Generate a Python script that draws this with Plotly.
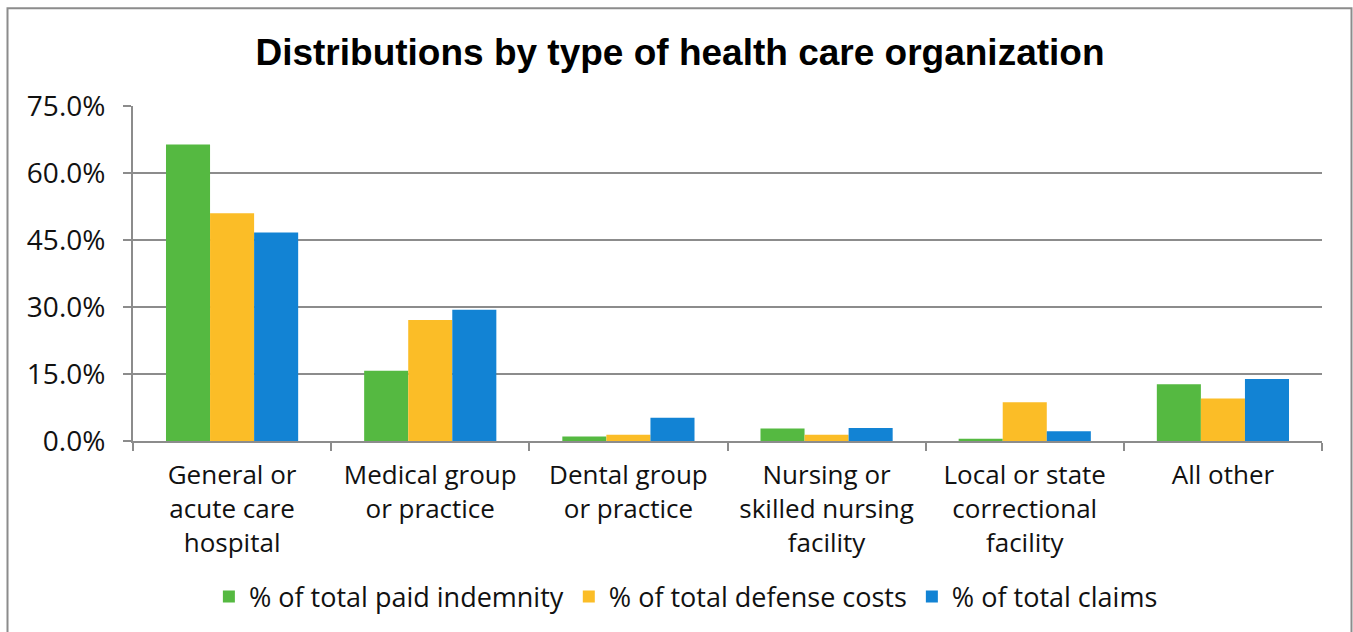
import plotly.graph_objects as go

# Claim distributions by organization type (percent of totals)
categories = [
    "General or<br>acute care<br>hospital",
    "Medical group<br>or practice",
    "Dental group<br>or practice",
    "Nursing or<br>skilled nursing<br>facility",
    "Local or state<br>correctional<br>facility",
    "All other",
]
paid_indemnity = [66.4, 15.7, 1.0, 2.8, 0.5, 12.7]
defense_costs = [51.0, 27.1, 1.4, 1.4, 8.7, 9.5]
total_claims = [46.7, 29.4, 5.2, 2.9, 2.2, 13.9]

series_names = [
    "% of total paid indemnity",
    "% of total defense costs",
    "% of total claims",
]
series_colors = ["#55B941", "#FBBD27", "#1283D4"]
y_ticks = [0, 15, 30, 45, 60, 75]

BODY_FONT = "Open Sans, Liberation Sans, Arial, sans-serif"
GRID = "#8C8C8C"

fig = go.Figure()
for name, values, color in zip(series_names, [paid_indemnity, defense_costs, total_claims], series_colors):
    fig.add_trace(go.Bar(
        x=categories,
        y=values,
        name=name,
        marker=dict(color=color, line=dict(width=0)),
    ))

W, H = 1353, 632
L, R, T, B = 133, 31, 106, 190

fig.update_layout(
    width=W,
    height=H,
    margin=dict(l=L, r=R, t=T, b=B, pad=0),
    paper_bgcolor="white",
    plot_bgcolor="white",
    barmode="group",
    bargap=0.333,
    bargroupgap=0,
    font=dict(family=BODY_FONT, size=26, color="#111111"),
    title=dict(
        text="<b>Distributions by type of health care organization</b>",
        font=dict(family="Liberation Sans, Arial, sans-serif", size=37, color="#000000"),
        x=680 / W,
        xanchor="center",
        xref="container",
        y=1 - 52 / H,
        yanchor="middle",
        yref="container",
    ),
    legend=dict(
        orientation="h",
        x=0.465,
        xanchor="center",
        y=(442 - 597) / 336,
        yanchor="middle",
        font=dict(family=BODY_FONT, size=27, color="#111111"),
        itemwidth=30,
        traceorder="normal",
    ),
    xaxis=dict(
        showline=True,
        linecolor=GRID,
        linewidth=2,
        ticks="outside",
        tickson="boundaries",
        ticklen=8,
        tickwidth=2,
        tickcolor=GRID,
        showgrid=False,
        ticklabelstandoff=10,
        tickfont=dict(family=BODY_FONT, size=26, color="#111111"),
    ),
    yaxis=dict(
        range=[0, 75],
        tickvals=y_ticks,
        ticktext=[f"{v:.1f}%" for v in y_ticks],
        showgrid=True,
        gridcolor=GRID,
        gridwidth=2,
        zeroline=False,
        showline=True,
        linecolor=GRID,
        linewidth=2,
        ticks="outside",
        ticklen=8,
        tickwidth=2,
        tickcolor=GRID,
        ticklabelstandoff=12,
        tickfont=dict(family=BODY_FONT, size=28, color="#111111"),
    ),
    shapes=[
        dict(
            type="rect",
            xref="paper",
            yref="paper",
            x0=(7.5 - L) / (W - L - R),
            x1=(1351.5 - L) / (W - L - R),
            y0=(H - B - 660) / (H - T - B),
            y1=(H - B - 8) / (H - T - B),
            line=dict(color="#8C8C8C", width=2),
            fillcolor="rgba(0,0,0,0)",
            layer="below",
        )
    ],
)

fig.write_html("out.html")
